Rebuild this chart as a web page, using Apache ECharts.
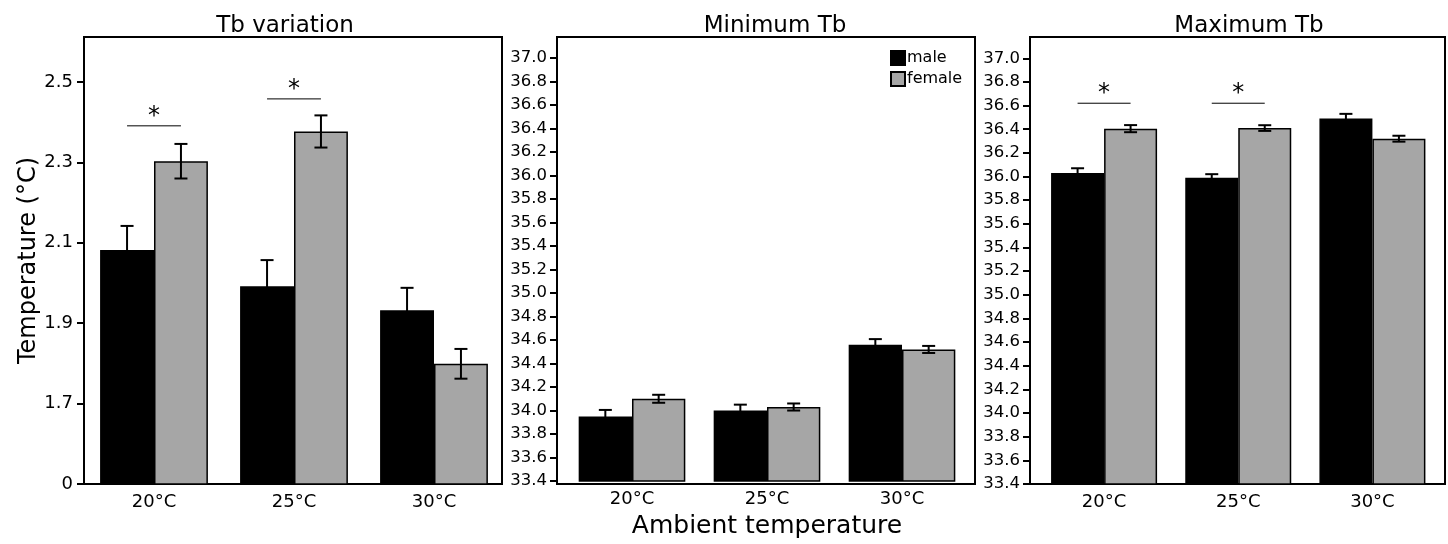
<!DOCTYPE html>
<html>
<head>
<meta charset="utf-8">
<script src="https://cdn.jsdelivr.net/npm/echarts@6/dist/echarts.min.js"></script>
<style>
  html, body { margin: 0; padding: 0; background: #fff; }
  #chart { width: 1448px; height: 544px; }
</style>
</head>
<body>
<div id="chart"></div>
<script>
// 数据
var categories = ['20°C', '25°C', '30°C'];

var tbMale = [2.082, 1.992, 1.932];
var tbMaleErr = [0.060, 0.065, 0.056];
var tbFemale = [2.303, 2.377, 1.799];
var tbFemaleErr = [0.043, 0.040, 0.037];
var tbSig = [[0, 2.391], [1, 2.458]];

var minMale = [33.95, 34.00, 34.56];
var minMaleErr = [0.055, 0.050, 0.048];
var minFemale = [34.10, 34.03, 34.52];
var minFemaleErr = [0.034, 0.030, 0.030];

var maxMale = [36.03, 35.99, 36.49];
var maxMaleErr = [0.040, 0.030, 0.040];
var maxFemale = [36.405, 36.41, 36.32];
var maxFemaleErr = [0.030, 0.024, 0.025];
var maxSig = [[0, 36.62], [1, 36.62]];

// 刻度
var tbTicks = [1.5, 1.7, 1.9, 2.1, 2.3, 2.5];
var tbTickLabels = ['0', '1.7', '1.9', '2.1', '2.3', '2.5'];
var tempTicks = [33.4, 33.6, 33.8, 34.0, 34.2, 34.4, 34.6, 34.8, 35.0, 35.2,
  35.4, 35.6, 35.8, 36.0, 36.2, 36.4, 36.6, 36.8, 37.0];

var FONT = 'DejaVu Sans';
var GRAY = '#a6a6a6';

function errData(means, errs) {
  return means.map(function (m, i) { return [i, m, errs[i]]; });
}

// 误差线
function errRender(side, gap) {
  return function (params, api) {
    var idx = api.value(0);
    var c = api.coord([idx, api.value(1)]);
    var band = api.size([1, 0])[0];
    var x = c[0] + side * band * (1 - gap) / 4;
    var top = api.coord([idx, api.value(1) + api.value(2)])[1];
    var bot = api.coord([idx, api.value(1) - api.value(2)])[1];
    var w = 6.5;
    var st = { stroke: '#000', lineWidth: 2 };
    return {
      type: 'group',
      children: [
        { type: 'line', shape: { x1: x, y1: top, x2: x, y2: bot }, style: st },
        { type: 'line', shape: { x1: x - w, y1: top, x2: x + w, y2: top }, style: st },
        { type: 'line', shape: { x1: x - w, y1: bot, x2: x + w, y2: bot }, style: st }
      ]
    };
  };
}

// 显著性标记
function sigRender(gap) {
  return function (params, api) {
    var c = api.coord([api.value(0), api.value(1)]);
    var band = api.size([1, 0])[0];
    var d = band * (1 - gap) / 4;
    return {
      type: 'group',
      children: [
        { type: 'line', shape: { x1: c[0] - d, y1: c[1], x2: c[0] + d, y2: c[1] },
          style: { stroke: '#000', lineWidth: 1 } },
        { type: 'text', x: c[0], y: c[1] - 9,
          style: { text: '*', fill: '#000', font: '24px ' + FONT, align: 'center', verticalAlign: 'middle' } }
      ]
    };
  };
}

function panelSeries(k, male, maleErr, female, femaleErr, gap, sig) {
  var list = [
    { name: 'male', type: 'bar', xAxisIndex: k, yAxisIndex: k, data: male,
      barGap: 0, barCategoryGap: (gap * 100) + '%',
      itemStyle: { color: '#000', borderColor: '#000', borderWidth: 1.5 } },
    { name: 'female', type: 'bar', xAxisIndex: k, yAxisIndex: k, data: female,
      barGap: 0, barCategoryGap: (gap * 100) + '%',
      itemStyle: { color: GRAY, borderColor: '#000', borderWidth: 1.5 } },
    { type: 'custom', xAxisIndex: k, yAxisIndex: k, z: 5, renderItem: errRender(-1, gap),
      data: errData(male, maleErr), encode: { x: 0, y: 1 } },
    { type: 'custom', xAxisIndex: k, yAxisIndex: k, z: 5, renderItem: errRender(1, gap),
      data: errData(female, femaleErr), encode: { x: 0, y: 1 } }
  ];
  if (sig) {
    list.push({ type: 'custom', xAxisIndex: k, yAxisIndex: k, z: 5, renderItem: sigRender(gap),
      data: sig, encode: { x: 0, y: 1 } });
  }
  return list;
}

function xAxisFor(k, extra) {
  var ax = {
    type: 'category', gridIndex: k, data: categories,
    axisLine: { show: false },
    axisTick: { alignWithLabel: true, length: 6, lineStyle: { color: '#000', width: 1.5 } },
    axisLabel: { color: '#000', fontFamily: FONT, fontSize: 18, margin: 9 }
  };
  return Object.assign(ax, extra || {});
}

function tempYAxis(k, offset) {
  return {
    type: 'value', gridIndex: k, min: 33.4, max: 37.18, offset: offset,
    splitLine: { show: false },
    axisLine: { show: false },
    axisTick: { show: true, length: 7, customValues: tempTicks, lineStyle: { color: '#000', width: 2 } },
    axisLabel: { color: '#000', fontFamily: FONT, fontSize: 16.5, margin: 10,
      customValues: tempTicks, formatter: function (v) { return v.toFixed(1); } }
  };
}

var chart = echarts.init(document.getElementById('chart'));

var frame = { show: true, borderColor: '#000', borderWidth: 2, backgroundColor: 'transparent' };
var titleStyle = { fontFamily: FONT, fontSize: 23, fontWeight: 'normal', color: '#000' };

chart.setOption({
  animation: false,
  backgroundColor: '#fff',
  title: [
    { text: 'Tb variation', left: 280, top: 10, textAlign: 'center', textStyle: titleStyle },
    { text: 'Minimum Tb', left: 770, top: 10, textAlign: 'center', textStyle: titleStyle },
    { text: 'Maximum Tb', left: 1244, top: 10, textAlign: 'center', textStyle: titleStyle }
  ],
  legend: {
    data: ['male', 'female'], orient: 'vertical', left: 890, top: 50, padding: 0,
    icon: 'rect', itemWidth: 14, itemHeight: 14, itemGap: 5,
    textStyle: { fontFamily: FONT, fontSize: 16, color: '#000', padding: [0, 0, 0, -3] }
  },
  grid: [
    { left: 84, top: 37, width: 420, height: 447 },
    { left: 564.5, top: 37, width: 405, height: 447 },
    { left: 1037, top: 37, width: 402.5, height: 447 },
    Object.assign({ left: 84, top: 37, width: 418, height: 447 }, frame),
    Object.assign({ left: 557, top: 37, width: 418, height: 447 }, frame),
    Object.assign({ left: 1030, top: 37, width: 415, height: 447 }, frame)
  ],
  xAxis: [
    xAxisFor(0),
    xAxisFor(1, { name: 'Ambient temperature', nameLocation: 'middle', nameGap: 33,
      nameTextStyle: { fontFamily: FONT, fontSize: 25, color: '#000' } }),
    xAxisFor(2)
  ],
  yAxis: [
    {
      type: 'value', gridIndex: 0, min: 1.5, max: 2.612,
      name: 'Temperature (°C)', nameLocation: 'middle', nameGap: 42,
      nameTextStyle: { fontFamily: FONT, fontSize: 24, color: '#000' },
      splitLine: { show: false },
      axisLine: { show: false },
      axisTick: { show: true, length: 7, customValues: tbTicks, lineStyle: { color: '#000', width: 2 } },
      axisLabel: { color: '#000', fontFamily: FONT, fontSize: 18, margin: 11,
        customValues: tbTicks,
        formatter: function (v) {
          for (var i = 0; i < tbTicks.length; i++) {
            if (Math.abs(tbTicks[i] - v) < 1e-6) return tbTickLabels[i];
          }
          return '';
        } }
    },
    tempYAxis(1, 7.5),
    tempYAxis(2, 7)
  ],
  series: [].concat(
    panelSeries(0, tbMale, tbMaleErr, tbFemale, tbFemaleErr, 0.23, tbSig),
    panelSeries(1, minMale, minMaleErr, minFemale, minFemaleErr, 0.21, null),
    panelSeries(2, maxMale, maxMaleErr, maxFemale, maxFemaleErr, 0.21, maxSig)
  )
});
</script>
</body>
</html>
